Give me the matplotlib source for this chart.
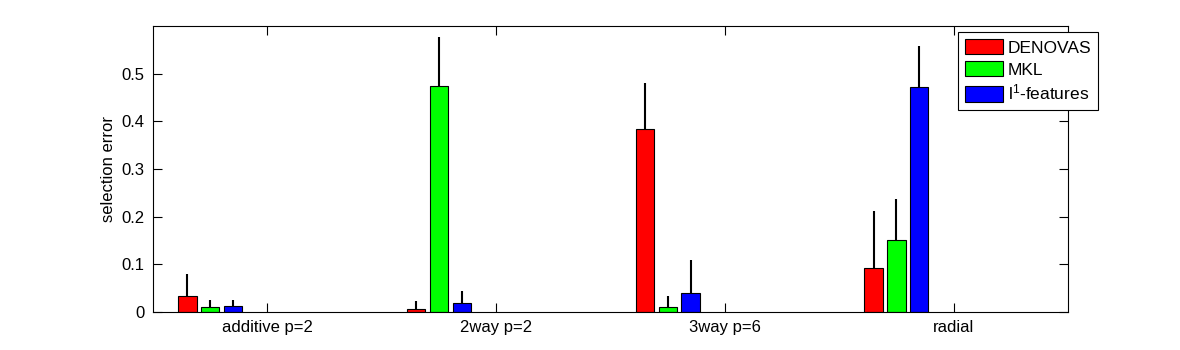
import numpy as np
import matplotlib
matplotlib.use('Agg')
import matplotlib.pyplot as plt

plt.rcParams['font.family'] = ['Liberation Sans', 'DejaVu Sans']
plt.rcParams['mathtext.default'] = 'regular'

groups = ['additive p=2', '2way p=2', '3way p=6', 'radial']
methods = ['DENOVAS', 'MKL', 'l$^1$-features']
colors = ['#ff0000', '#00ff00', '#0000ff']

denovas = [0.033, 0.006, 0.383, 0.092]
mkl = [0.010, 0.475, 0.010, 0.152]
l1feat = [0.012, 0.018, 0.039, 0.471]

denovas_err = [0.047, 0.017, 0.098, 0.120]
mkl_err = [0.015, 0.101, 0.024, 0.086]
l1feat_err = [0.013, 0.027, 0.070, 0.087]

vals = [denovas, mkl, l1feat]
errs = [denovas_err, mkl_err, l1feat_err]

fig = plt.figure(figsize=(11.8, 3.5), dpi=100)
ax = fig.add_axes([0.1297, 0.1086, 0.7754, 0.8171])

x = np.arange(1, len(groups) + 1)
# matlab puts the 3 series on the left part of an 8-slot group
offsets = [-0.35, -0.25, -0.15]
for i in range(3):
    ax.bar(x + offsets[i], vals[i], width=0.08, color=colors[i],
           edgecolor='k', linewidth=0.8, label=methods[i], zorder=2)
    ax.errorbar(x + offsets[i], vals[i],
                yerr=[np.zeros(len(groups)), errs[i]],
                fmt='none', ecolor='k', elinewidth=1.5, capsize=0, zorder=3)

ax.set_xlim(0.5, 4.5)
ax.set_ylim(0, 0.6)
ax.set_xticks(x)
ax.set_xticklabels(groups, fontsize=12)
ax.set_yticks([0, 0.1, 0.2, 0.3, 0.4, 0.5])
ax.set_yticklabels(['0', '0.1', '0.2', '0.3', '0.4', '0.5'], fontsize=12)
ax.tick_params(direction='in', length=6.5, width=0.8, top=True, right=True, pad=6)
ax.set_ylabel('selection error', fontsize=12, labelpad=4)
for s in ax.spines.values():
    s.set_linewidth(0.8)

leg = ax.legend(loc='upper left', bbox_to_anchor=(0.812, 0.9086),
                bbox_transform=fig.transFigure, fontsize=12.5, frameon=True,
                fancybox=False, edgecolor='k', framealpha=1,
                handlelength=2.2, handleheight=1.0, handletextpad=0.25,
                labelspacing=0.3, borderpad=0.4, borderaxespad=0)
leg.get_frame().set_linewidth(0.8)

fig.savefig('out.png', dpi=100)
